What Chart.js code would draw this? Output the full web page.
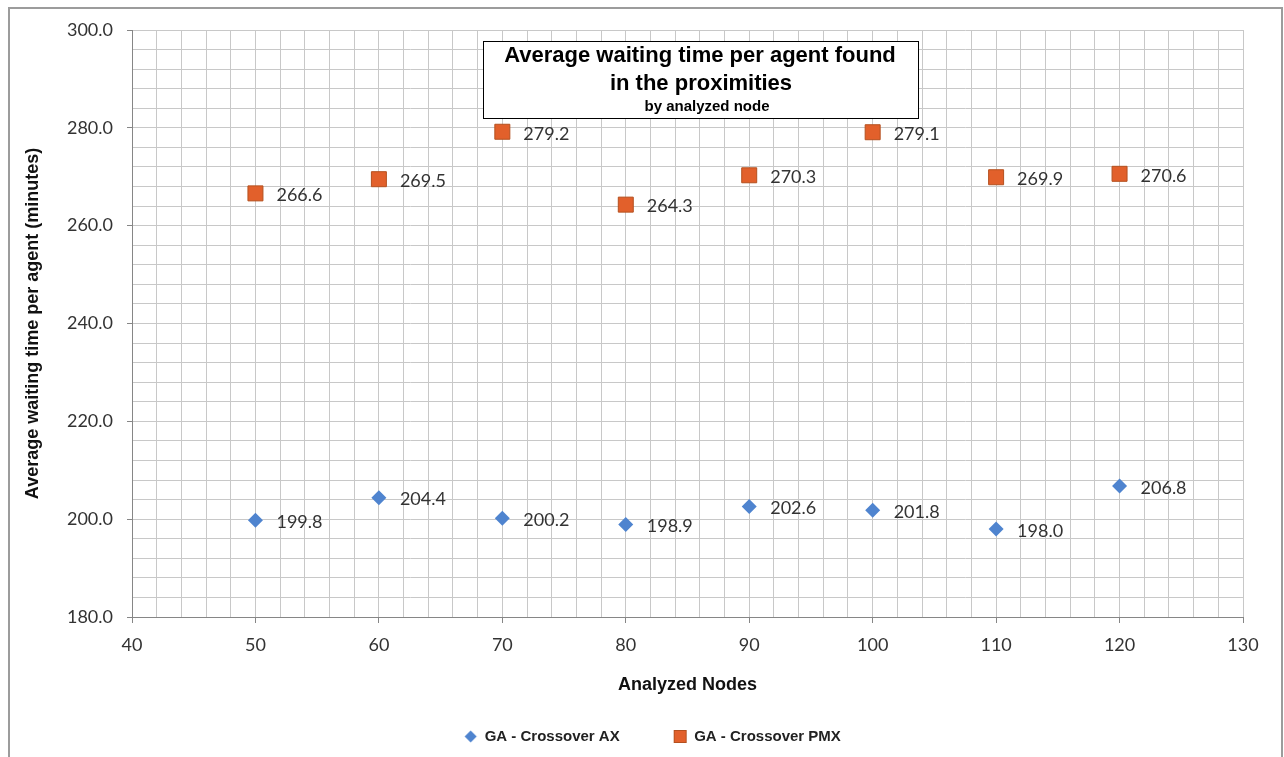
<!DOCTYPE html>
<html>
<head>
<meta charset="utf-8">
<title>Average waiting time per agent found in the proximities</title>
<script src="https://cdn.jsdelivr.net/npm/chart.js@4.4.1/dist/chart.umd.min.js"></script>
<style>
  html, body { margin: 0; padding: 0; background: #ffffff; }
  canvas { display: block; }
</style>
</head>
<body>
<canvas id="chart" width="1284" height="757"></canvas>
<script>
// Analyzed node counts (x) and the average waiting time of each crossover variant (y)
const nodes = [50, 60, 70, 80, 90, 100, 110, 120];
const crossoverAX = [199.8, 204.4, 200.2, 198.9, 202.6, 201.8, 198.0, 206.8];
const crossoverPMX = [266.6, 269.5, 279.2, 264.3, 270.3, 279.1, 269.9, 270.6];
const seriesNames = ['GA - Crossover AX', 'GA - Crossover PMX'];

// Labelled ticks; the grid also has unlabelled minor lines between them
const xMajorTicks = [40, 50, 60, 70, 80, 90, 100, 110, 120, 130];
const yMajorTicks = [180, 200, 220, 240, 260, 280, 300];

const titleLines = ['Average waiting time per agent found', 'in the proximities'];
const subtitleText = 'by analyzed node';
const xAxisTitle = 'Analyzed Nodes';
const yAxisTitle = 'Average waiting time per agent (minutes)';

const AX_FILL = '#4F84CF';
const PMX_FILL = '#E2602B';
const PMX_EDGE = '#B4501F';

// Small canvases used as legend symbols
function legendSymbol(kind) {
  const c = document.createElement('canvas');
  c.width = 15; c.height = 15;
  const g = c.getContext('2d');
  if (kind === 'diamond') {
    g.fillStyle = AX_FILL;
    g.beginPath();
    g.moveTo(7.5, 1.5); g.lineTo(13.5, 7.5); g.lineTo(7.5, 13.5); g.lineTo(1.5, 7.5);
    g.closePath(); g.fill();
  } else {
    g.fillStyle = PMX_FILL;
    g.fillRect(1, 1, 13, 13);
    g.strokeStyle = PMX_EDGE; g.lineWidth = 1;
    g.strokeRect(1.5, 1.5, 12, 12);
  }
  return c;
}
const legendSymbols = [legendSymbol('diamond'), legendSymbol('square')];

// Grey frame around the whole figure
const framePlugin = {
  id: 'frame',
  beforeDraw(chart) {
    const ctx = chart.ctx;
    ctx.save();
    ctx.fillStyle = '#ffffff';
    ctx.fillRect(0, 0, chart.width, chart.height);
    ctx.strokeStyle = '#9c9c9c';
    ctx.lineWidth = 2;
    ctx.strokeRect(9, 8, 1273, 800);
    ctx.restore();
  }
};

// Boxed title sitting over the upper part of the plot
const titleBoxPlugin = {
  id: 'titleBox',
  afterDraw(chart) {
    const ctx = chart.ctx;
    ctx.save();
    ctx.fillStyle = '#ffffff';
    ctx.fillRect(483, 41, 435, 77);
    ctx.strokeStyle = '#000000';
    ctx.lineWidth = 1;
    ctx.strokeRect(483.5, 41.5, 435, 77);
    ctx.fillStyle = '#000000';
    ctx.textAlign = 'center';
    ctx.textBaseline = 'middle';
    ctx.font = 'bold 22px "Liberation Sans", Arial, sans-serif';
    ctx.fillText(titleLines[0], 700, 56);
    ctx.fillText(titleLines[1], 701, 84);
    ctx.font = 'bold 15px "Liberation Sans", Arial, sans-serif';
    ctx.fillText(subtitleText, 707, 107);
    ctx.restore();
  }
};

// Value printed to the right of every marker
const valueLabelPlugin = {
  id: 'valueLabels',
  afterDatasetsDraw(chart) {
    const ctx = chart.ctx;
    ctx.save();
    ctx.fillStyle = '#333333';
    ctx.font = '18px Lato, "Open Sans", sans-serif';
    ctx.textAlign = 'left';
    ctx.textBaseline = 'middle';
    chart.data.datasets.forEach((ds, di) => {
      const meta = chart.getDatasetMeta(di);
      meta.data.forEach((pt, i) => {
        ctx.fillText(ds.data[i].y.toFixed(1), pt.x + 21, pt.y + 2);
      });
    });
    ctx.restore();
  }
};

const tickFont = { family: 'Lato, "Open Sans", sans-serif', size: 18 };
const titleFont = { family: '"Liberation Sans", Arial, sans-serif', size: 18, weight: 'bold' };

new Chart(document.getElementById('chart'), {
  type: 'scatter',
  data: {
    datasets: [
      {
        label: seriesNames[0],
        data: nodes.map((x, i) => ({ x, y: crossoverAX[i] })),
        pointStyle: 'rectRot',
        pointRadius: 7.5,
        backgroundColor: AX_FILL,
        borderColor: AX_FILL,
        borderWidth: 0
      },
      {
        label: seriesNames[1],
        data: nodes.map((x, i) => ({ x, y: crossoverPMX[i] })),
        pointStyle: 'rect',
        pointRadius: 10.6,
        backgroundColor: PMX_FILL,
        borderColor: PMX_EDGE,
        borderWidth: 1
      }
    ]
  },
  options: {
    responsive: false,
    animation: false,
    events: [],
    layout: { padding: { left: 62, right: 41, top: 30, bottom: 3 } },
    scales: {
      x: {
        type: 'linear',
        position: 'bottom',
        min: 40,
        max: 130,
        ticks: {
          stepSize: 2,
          autoSkip: false,
          maxRotation: 0,
          padding: 11,
          color: '#333333',
          font: tickFont,
          callback: v => (xMajorTicks.includes(v) ? String(v) : '')
        },
        grid: {
          color: '#C8C8C8',
          lineWidth: 1,
          tickLength: 6,
          tickWidth: 1,
          tickColor: c => (c.tick && xMajorTicks.includes(c.tick.value) ? '#868686' : 'rgba(0,0,0,0)')
        },
        border: { color: '#868686', width: 1 },
        title: {
          display: true,
          text: xAxisTitle,
          color: '#111111',
          font: titleFont,
          padding: { top: 0, bottom: -21 }
        },
        afterFit: s => { s.height = 58; }
      },
      y: {
        type: 'linear',
        min: 180,
        max: 300,
        ticks: {
          stepSize: 4,
          autoSkip: false,
          padding: 14,
          color: '#333333',
          font: tickFont,
          callback: v => (yMajorTicks.includes(v) ? v.toFixed(1) : '')
        },
        grid: {
          color: '#C8C8C8',
          lineWidth: 1,
          tickLength: 5,
          tickWidth: 1,
          tickColor: c => (c.tick && yMajorTicks.includes(c.tick.value) ? '#868686' : 'rgba(0,0,0,0)')
        },
        border: { color: '#868686', width: 1 },
        title: {
          display: true,
          text: yAxisTitle,
          color: '#111111',
          font: titleFont,
          padding: { top: -40, bottom: 0 }
        },
        afterFit: s => { s.width = 70; }
      }
    },
    plugins: {
      legend: {
        position: 'bottom',
        labels: {
          usePointStyle: true,
          boxWidth: 13,
          boxHeight: 13,
          padding: 54,
          color: '#222222',
          font: { family: '"Liberation Sans", Arial, sans-serif', size: 15, weight: 'bold' },
          generateLabels: chart => chart.data.datasets.map((ds, i) => ({
            text: ds.label,
            pointStyle: legendSymbols[i],
            fillStyle: ds.backgroundColor,
            strokeStyle: ds.borderColor,
            lineWidth: 0,
            hidden: false,
            datasetIndex: i,
            fontColor: '#222222'
          }))
        }
      },
      title: { display: false },
      tooltip: { enabled: false }
    }
  },
  plugins: [framePlugin, titleBoxPlugin, valueLabelPlugin]
});
</script>
</body>
</html>
